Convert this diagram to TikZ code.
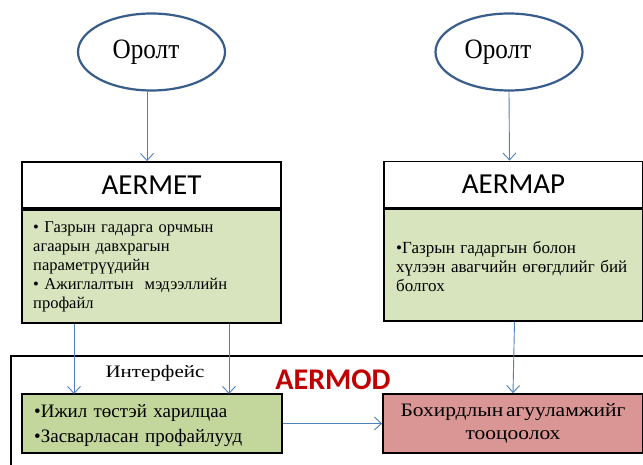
\documentclass[tikz,border=0pt]{standalone}
\usepackage{fontspec}
\setmainfont{Liberation Serif}
\newfontfamily\calib{Carlito}
\newfontfamily\orfont{Liberation Serif}[FakeStretch=0.9]
\newfontfamily\rbfont{Liberation Serif}[FakeStretch=1.13]
\newfontfamily\intfont{Liberation Serif}[FakeStretch=1.2]
\usetikzlibrary{shapes.geometric,arrows.meta}
\definecolor{lgreen}{HTML}{D7E4BD}
\definecolor{mgreen}{HTML}{C3D69B}
\definecolor{pred}{HTML}{D99694}
\definecolor{eblue}{HTML}{385D8A}
\definecolor{ablue}{HTML}{4F81BD}
\definecolor{aermodred}{HTML}{C00000}
\begin{document}
\begin{tikzpicture}[x=1pt,y=-1pt,
  oval/.style={ellipse,draw=eblue,line width=2.2pt,minimum width=147pt,minimum height=77pt,inner sep=0pt},
  ovaltext/.style={inner sep=0pt,font=\orfont\fontsize{28}{32}\selectfont},
  headbox/.style={draw=black,line width=1.8pt,fill=white,minimum width=259pt,minimum height=46pt,font=\calib\fontsize{29}{32}\selectfont,inner sep=0pt},
  bodybox/.style={draw=black,line width=1.8pt,fill=lgreen,minimum width=259pt,minimum height=113pt,inner sep=0pt},
  bodytext/.style={text width=300pt,align=left,inner sep=0pt,anchor=west},
  arr/.style={draw=ablue,line width=0.9pt,-{Straight Barb[length=7pt,width=13pt]}},
]
\useasboundingbox (0,0) rectangle (643,465);
\fill[white] (0,0) rectangle (643,465);

% outer AERMOD frame
\draw[line width=1.6pt] (11,480) -- (11,356) -- (660,356);

% ovals
\node[oval] (e1) at (151.5,52) {};
\node[ovaltext] (e1t) at (146,52) {Оролт};
\node[oval] (e2) at (509,52) {};
\node[ovaltext] (e2t) at (498,52) {Оролт};

% AERMET
\node[headbox] (met) at (151.5,185) {AERMET};
\node[bodybox,anchor=north] (metb) at (met.south) {};
\node[bodytext,font=\fontsize{16.5}{19}\selectfont] (mett) at (33,267) {• Газрын гадарга орчмын\\агаарын давхрагын\\параметрүүдийн\\• Ажиглалтын\ \ мэдээллийн\\профайл};

% AERMAP
\node[headbox] (map) at (513.5,184.5) {AERMAP};
\node[bodybox,anchor=north,minimum height=112pt] (mapb) at (map.south) {};
\node[bodytext,font=\fontsize{17}{19}\selectfont] (mapt) at (396,266) {•Газрын гадаргын болон\\хүлээн авагчийн өгөгдлийг бий\\болгох};

% AERMOD labels
\node[font=\intfont\fontsize{17.5}{20}\selectfont,inner sep=0pt] (intf) at (155,373) {Интерфейс};
\node[font=\calib\bfseries\fontsize{30}{32}\selectfont,text=aermodred,inner sep=0pt] (aermod) at (333,380) {AERMOD};

% bottom boxes
\node[draw=black,line width=1.8pt,fill=mgreen,minimum width=260pt,minimum height=59pt,inner sep=0pt] (lg) at (152,423.5) {};
\node[inner sep=0pt,text width=240pt,align=left,anchor=west,font=\fontsize{19}{25}\selectfont] (lgt) at (34,426) {•Ижил төстэй харилцаа\\•Засварласан профайлууд};
\node[draw=black,line width=1.8pt,fill=pred,minimum width=260pt,minimum height=59pt,inner sep=0pt,align=center,font=\rbfont\fontsize{19}{23}\selectfont] (rb) at (513,423.5) {\spaceskip=0.15em Бохирдлын агууламжийг\\тооцоолох};

% connectors
\coordinate (a1) at (74,394);
\coordinate (a2) at (229,394);
\draw[arr] ([xshift=-4.5pt]e1.south) -- ([xshift=-4.5pt]met.north);
\draw[arr] ([xshift=0pt]e2.south) -- ([xshift=-4pt]map.north);
\draw[arr] (metb.south -| a1) -- (a1);
\draw[arr] (metb.south -| a2) -- (a2);
\draw[arr] ([xshift=1pt]mapb.south) -- (rb.north);
\draw[arr] (lg.east) -- (rb.west);
\end{tikzpicture}
\end{document}
